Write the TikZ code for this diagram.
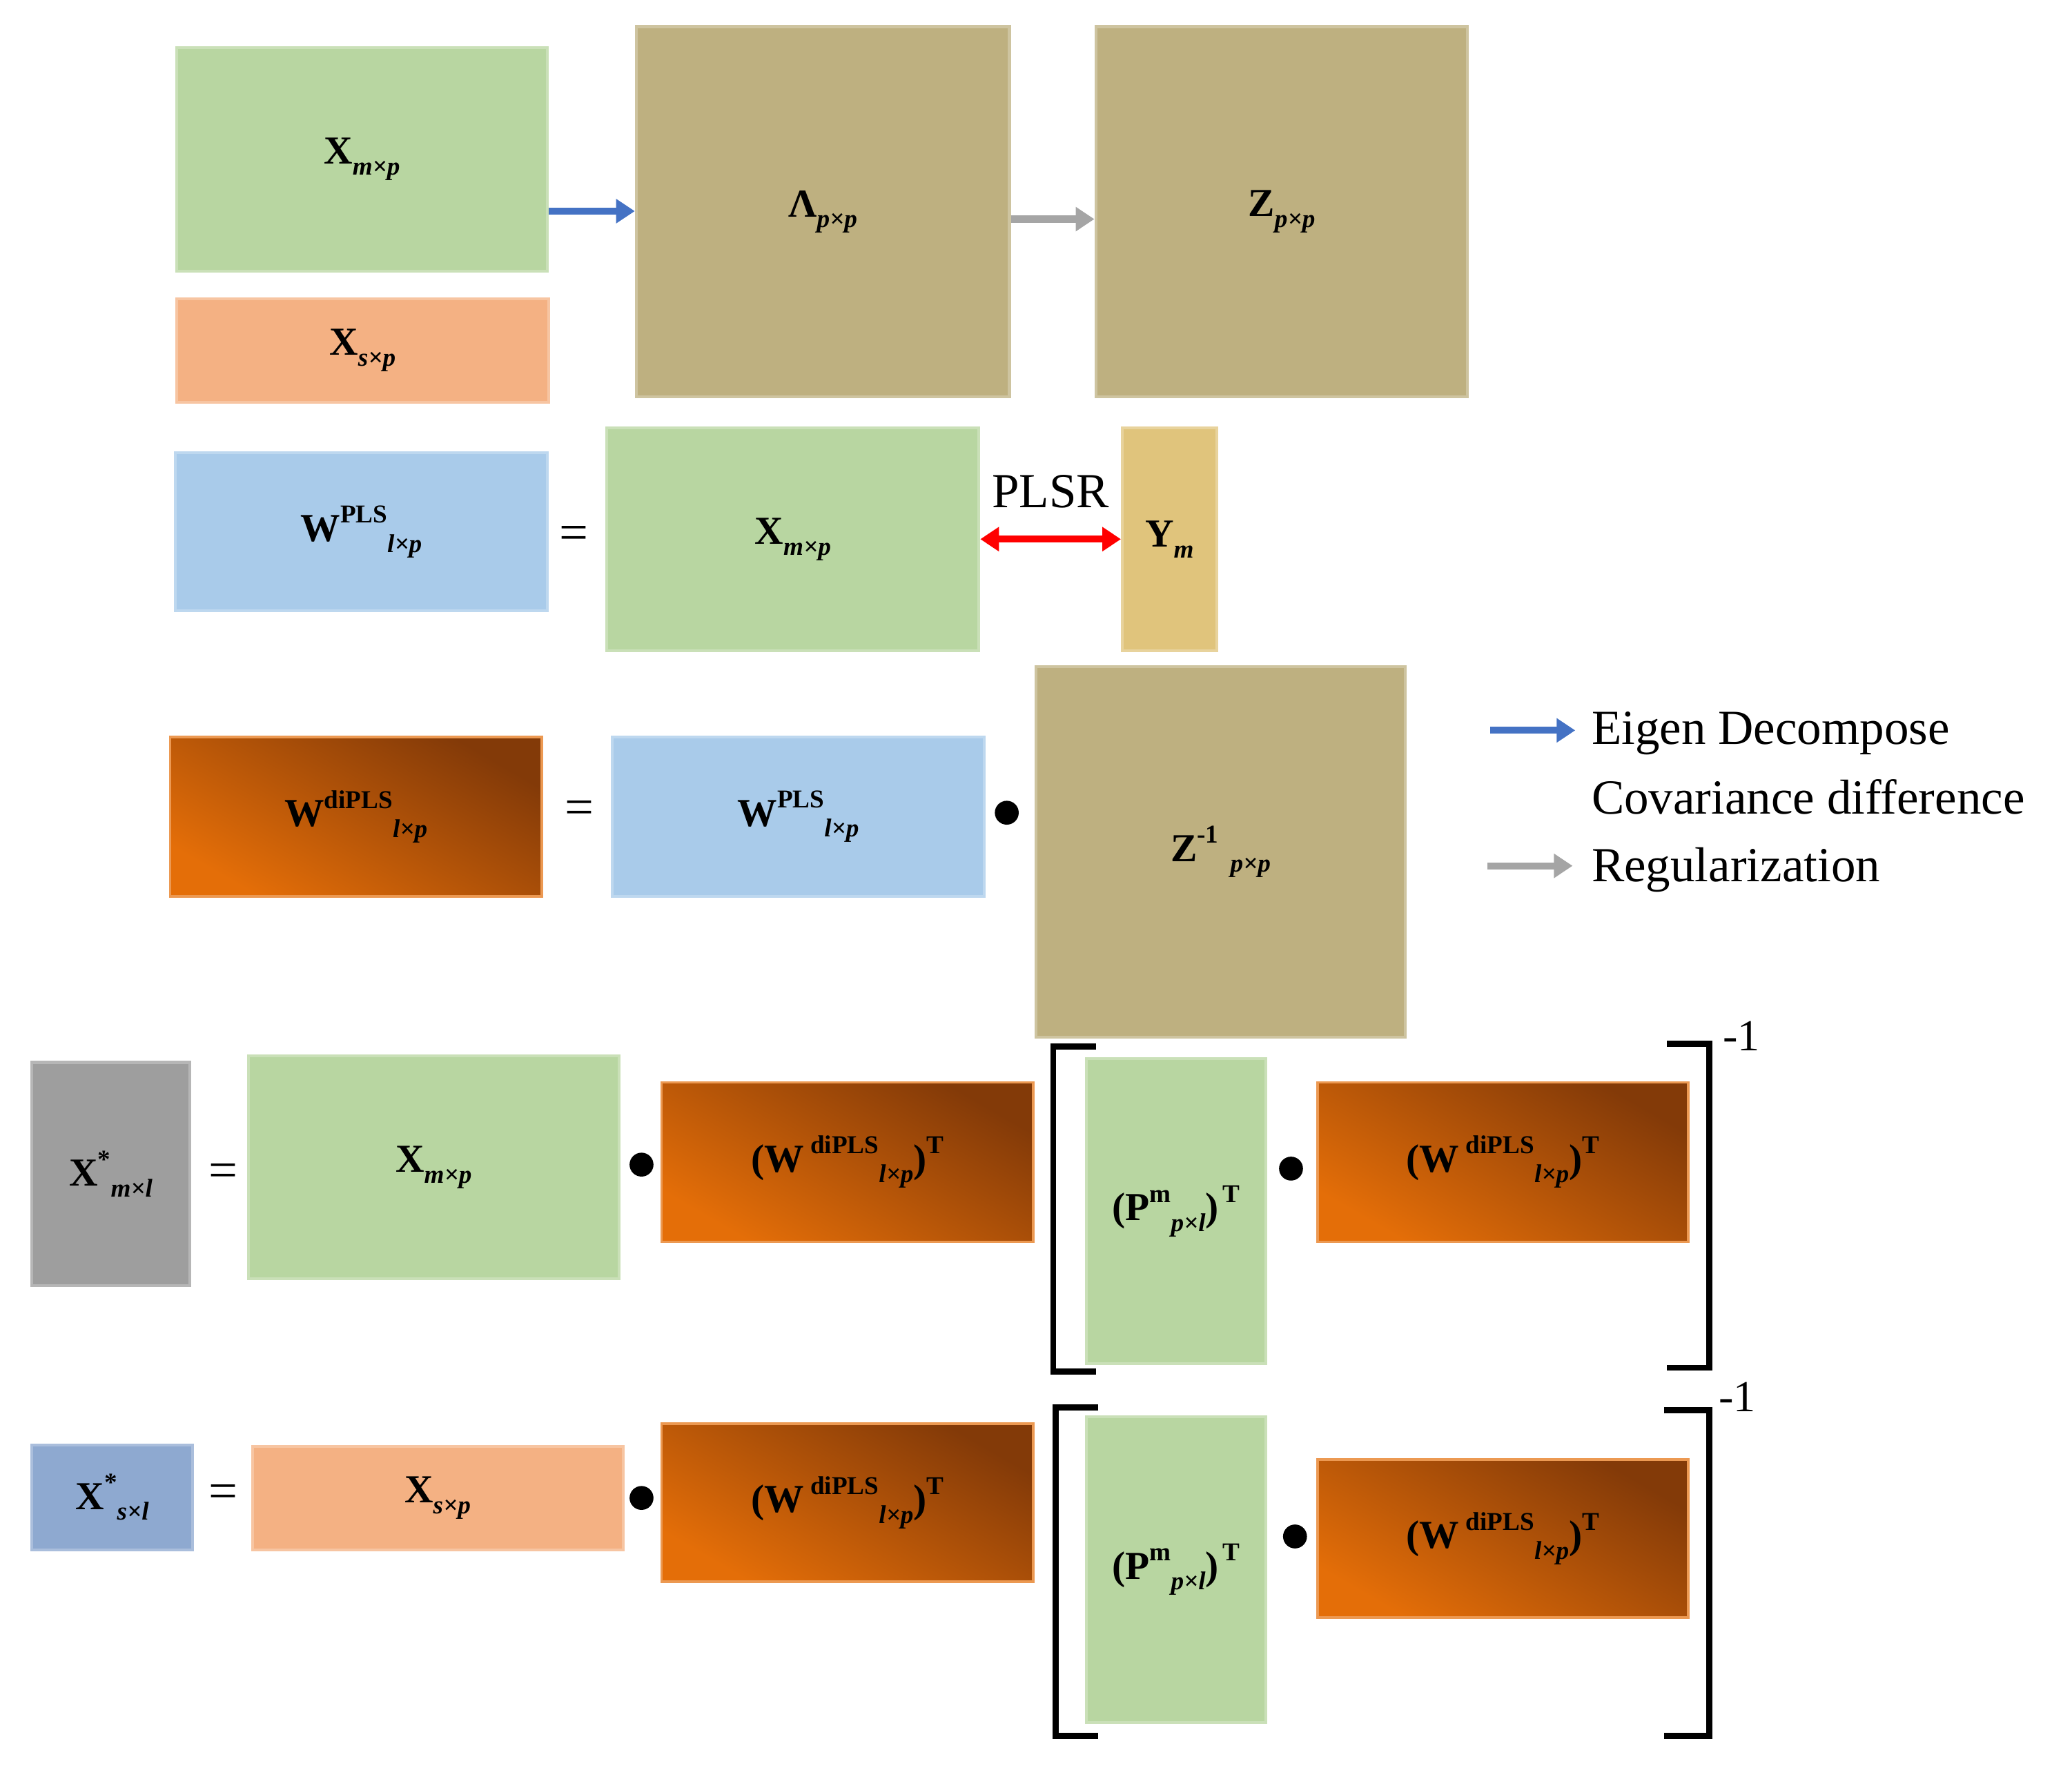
\documentclass[tikz,border=0pt]{standalone}
\usepackage{fontspec}
\setmainfont{Liberation Serif}
\usetikzlibrary{arrows.meta}
\definecolor{grn}{HTML}{B8D6A1}
\definecolor{org}{HTML}{F4B183}
\definecolor{tan}{HTML}{BEB080}
\definecolor{blu}{HTML}{A9CBEA}
\definecolor{yel}{HTML}{E0C47C}
\definecolor{gry}{HTML}{9E9E9E}
\definecolor{bgr}{HTML}{8EA9D0}
\definecolor{brA}{HTML}{833A08}
\definecolor{brB}{HTML}{E46E08}
\definecolor{arB}{HTML}{4472C4}
\definecolor{arG}{HTML}{A5A5A5}
\newcommand\Sb[1]{\raisebox{-0.6ex}{\fontsize{11}{11}\selectfont\bfseries\itshape #1}}
\newcommand\Sp[1]{\raisebox{1.0ex}{\fontsize{11}{11}\selectfont\bfseries #1}}
\tikzset{
 bx/.style={draw=#1!75!white,line width=1.2pt,fill=#1,inner sep=0pt,font=\fontsize{17}{17}\selectfont\bfseries},
 br/.style={draw=brB!70!white,line width=1pt,inner sep=0pt,top color=brB,bottom color=brA,shading angle=150,font=\fontsize{17}{17}\selectfont\bfseries},
 dot/.style={circle,fill=black,inner sep=0pt,minimum size=0.36cm},
 eq/.style={font=\fontsize{22}{22}\selectfont},
 brk/.style={line width=2.6pt},
 leg/.style={font=\fontsize{21}{21}\selectfont,anchor=west,inner sep=0pt}
}
\newcommand\B[6]{\node[#1,minimum width=#4*0.02cm,minimum height=#5*0.02cm] (#6) at (#2,#3)}
\begin{document}
\begin{tikzpicture}[x=0.02cm,y=-0.02cm]
\useasboundingbox (0,0) rectangle (1560,1331);
\B{bx=grn}{272.5}{120}{279}{168}{xa} {X\Sb{m×p}};
\B{bx=org}{273}{264}{280}{78}{xs} {X\Sb{s×p}};
\B{bx=tan}{619.5}{159.5}{281}{279}{lam} {Λ\Sb{p×p}};
\B{bx=tan}{965}{159.5}{280}{279}{z} {Z\Sb{p×p}};
\B{bx=blu}{272}{400.5}{280}{119}{wpls} {W\Sp{PLS}\Sb{l×p}};
\B{bx=grn}{597}{406}{280}{168}{xb} {X\Sb{m×p}};
\B{bx=yel}{880.5}{406}{71}{168}{ym} {Y\Sb{m}};
\B{br}{268}{615}{280}{120}{wdi} {W\Sp{diPLS}\Sb{l×p}};
\B{bx=blu}{601}{615}{280}{120}{wpls2} {W\Sp{PLS}\Sb{l×p}};
\B{bx=tan}{919}{641.5}{278}{279}{zinv} {Z\Sp{-1}\hspace{0.3em}\Sb{p×p}};
\B{bx=gry}{83.5}{884}{119}{168}{xst1} {X\Sp{*}\Sb{m×l}};
\B{bx=grn}{326.5}{879}{279}{168}{xc} {X\Sb{m×p}};
\B{br}{638}{875}{280}{120}{b1} {(W\,\Sp{diPLS}\Sb{l×p})\Sp{T}};
\B{bx=grn}{885.5}{912}{135}{230}{p1} {(P\Sp{m}\Sb{p×l})\Sp{\,T}};
\B{br}{1131.5}{875}{279}{120}{b2} {(W\,\Sp{diPLS}\Sb{l×p})\Sp{T}};
\B{bx=bgr}{84.5}{1127.5}{121}{79}{xst2} {X\Sp{*}\Sb{s×l}};
\B{bx=org}{329.5}{1128}{279}{78}{xs2} {X\Sb{s×p}};
\B{br}{638}{1131.5}{280}{119}{b3} {(W\,\Sp{diPLS}\Sb{l×p})\Sp{T}};
\B{bx=grn}{885.5}{1182}{135}{230}{p2} {(P\Sp{m}\Sb{p×l})\Sp{\,T}};
\B{br}{1131.5}{1158.5}{279}{119}{b4} {(W\,\Sp{diPLS}\Sb{l×p})\Sp{T}};
% arrows
\draw[arB,line width=3pt,-{Triangle[length=8pt,width=10pt]}] (xa.east|-0,159) -- (lam.west|-0,159);
\draw[arG,line width=3pt,-{Triangle[length=8pt,width=10pt]}] (lam.east|-0,165) -- (z.west|-0,165);
\draw[red,line width=3pt,{Triangle[length=8pt,width=10pt]}-{Triangle[length=8pt,width=10pt]}] (xb.east) -- (ym.west);
\node[font=\fontsize{21}{21}\selectfont] (plsr) at (791,370) {PLSR};
% equals and dots
\node[eq] (e1) at (432,405) {=};
\node[eq] (e2) at (436,612) {=};
\node[eq] (e3) at (168,885) {=};
\node[eq] (e4) at (168,1127) {=};
\node[dot] (d1) at (758,612) {};
\node[dot] (d2) at (483,877) {};
\node[dot] (d3) at (972,880) {};
\node[dot] (d4) at (483,1128) {};
\node[dot] (d5) at (975,1157) {};
% brackets
\draw[brk] (825,788) -- (793,788) -- (793,1033) -- (825,1033);
\draw[brk] (1255,786) -- (1287,786) -- (1287,1030) -- (1255,1030);
\node[font=\fontsize{19}{19}\selectfont] (m1) at (1311,780) {-1};
\draw[brk] (827,1060) -- (795,1060) -- (795,1307) -- (827,1307);
\draw[brk] (1253,1062) -- (1287,1062) -- (1287,1307) -- (1253,1307);
\node[font=\fontsize{19}{19}\selectfont] (m2) at (1308,1052) {-1};
% legend
\coordinate (l1a) at (1122,550); \coordinate (l1b) at (1186,550);
\coordinate (l2a) at (1120,652); \coordinate (l2b) at (1184,652);
\draw[arB,line width=3pt,-{Triangle[length=8pt,width=10pt]}] (l1a) -- (l1b);
\draw[arG,line width=3pt,-{Triangle[length=8pt,width=10pt]}] (l2a) -- (l2b);
\node[leg] (t1) at (1198,552) {Eigen Decompose};
\node[leg] (t2) at (1198,600) {Covariance difference};
\node[leg] (t3) at (1198,655) {Regularization};
\end{tikzpicture}
\end{document}
